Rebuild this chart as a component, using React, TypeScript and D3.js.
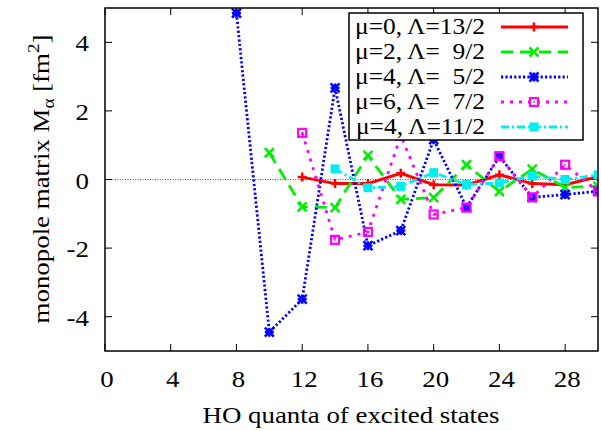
import React from "react";
import * as d3 from "d3";

const W = 601;
const H = 431;

const xTicks = [0, 4, 8, 12, 16, 20, 24, 28];
const yTicks = [-4, -2, 0, 2, 4];

const xRed = [12, 14, 16, 18, 20, 22, 24, 26, 28, 30];
const yRed = [0.07, -0.12, -0.12, 0.18, -0.15, -0.16, 0.14, -0.12, -0.15, 0.08];

const xGreen = [10, 12, 14, 16, 18, 20, 22, 24, 26, 28, 30];
const yGreen = [0.78, -0.8, -0.82, 0.7, -0.58, -0.53, 0.43, -0.35, 0.3, -0.23, -0.2];

const xBlue = [8, 10, 12, 14, 16, 18, 20, 22, 24, 26, 28, 30];
const yBlue = [4.85, -4.45, -3.49, 2.67, -1.93, -1.49, 1.16, -0.81, 0.67, -0.52, -0.44, -0.34];

const xMag = [12, 14, 16, 18, 20, 22, 24, 26, 28, 30];
const yMag = [1.36, -1.76, -1.53, 1.28, -1.02, -0.82, 0.68, -0.52, 0.43, -0.35];

const xCyan = [14, 16, 18, 20, 22, 24, 26, 28, 30];
const yCyan = [0.31, -0.24, -0.2, 0.2, -0.15, -0.1, 0.1, 0.0, 0.13];

const labels = ["μ=0, Λ=13/2", "μ=2, Λ=  9/2", "μ=4, Λ=  5/2", "μ=6, Λ=  7/2", "μ=4, Λ=11/2"];

const L = 105, R = 598, T = 8, B = 351;
const x = d3.scaleLinear().domain([0, 30]).range([L, R]);
const y = d3.scaleLinear().domain([-5, 5]).range([B, T]);

type Series = { xs: number[]; ys: number[]; color: string; dash: string; marker: string };
const series: Series[] = [
  { xs: xRed, ys: yRed, color: "#ff0000", dash: "", marker: "plus" },
  { xs: xGreen, ys: yGreen, color: "#00ee00", dash: "12,7", marker: "x" },
  { xs: xBlue, ys: yBlue, color: "#0000ff", dash: "2.2,2.2", marker: "star" },
  { xs: xMag, ys: yMag, color: "#ff00ff", dash: "3,6", marker: "sq" },
  { xs: xCyan, ys: yCyan, color: "#00eeee", dash: "8,3,2,3", marker: "fsq" },
];

function Marker({ kind, cx, cy, color }: { kind: string; cx: number; cy: number; color: string }) {
  const s = 4.5;
  if (kind === "plus")
    return (
      <path d={`M${cx - s},${cy}H${cx + s}M${cx},${cy - s}V${cy + s}`} stroke={color} strokeWidth={2.5} fill="none" />
    );
  if (kind === "x")
    return (
      <path d={`M${cx - s},${cy - s}L${cx + s},${cy + s}M${cx - s},${cy + s}L${cx + s},${cy - s}`} stroke={color} strokeWidth={2.5} fill="none" />
    );
  if (kind === "star")
    return (
      <g stroke={color} strokeWidth={2.5} fill="none">
        <path d={`M${cx - s},${cy - s}L${cx + s},${cy + s}M${cx - s},${cy + s}L${cx + s},${cy - s}M${cx - s},${cy}H${cx + s}M${cx},${cy - s}V${cy + s}`} />
        <rect x={cx - 2.5} y={cy - 2.5} width={5} height={5} fill={color} stroke="none" />
      </g>
    );
  if (kind === "sq")
    return (
      <g>
        <rect x={cx - 4} y={cy - 4} width={8} height={8} fill="none" stroke={color} strokeWidth={2.2} />
        <rect x={cx - 0.8} y={cy - 0.8} width={1.6} height={1.6} fill={color} />
      </g>
    );
  return <rect x={cx - 4.5} y={cy - 4.5} width={9} height={9} fill={color} />;
}

const FONT = "Liberation Serif";

function Txt({ x: tx, y: ty, anchor, rot, sx, children }: { x: number; y: number; anchor: string; rot?: number; sx?: number; children: React.ReactNode }) {
  return (
    <text
      transform={`translate(${tx},${ty}) rotate(${rot || 0}) scale(${sx || 1.12},1)`}
      style={{ fontFamily: FONT, fontSize: 24, whiteSpace: "pre" }}
      textAnchor={anchor}
    >
      {children}
    </text>
  );
}

export default function App() {
  const line = d3.line<[number, number]>().x((d) => x(d[0])).y((d) => y(d[1]));
  const legRows = [27, 52, 77, 102, 127];
  return (
    <svg width={W} height={H} style={{ position: "absolute", left: 0, top: 0, background: "#fff" }}>
      <defs>
        <clipPath id="plotclip">
          <rect x={L} y={T} width={R - L} height={B - T} />
        </clipPath>
      </defs>
      {/* zero line */}
      <line x1={L} x2={R} y1={y(0)} y2={y(0)} stroke="#555" strokeWidth={1} strokeDasharray="1,1.5" />
      {/* ticks */}
      {xTicks.map((t) => (
        <g key={"xt" + t}>
          <line x1={x(t)} x2={x(t)} y1={B} y2={B - 7} stroke="#000" strokeWidth={1} />
          <line x1={x(t)} x2={x(t)} y1={T} y2={T + 7} stroke="#000" strokeWidth={1} />
          <Txt x={x(t) + 2} y={387} anchor="middle">{t}</Txt>
        </g>
      ))}
      {yTicks.map((t) => (
        <g key={"yt" + t}>
          <line x1={L} x2={L + 7} y1={y(t)} y2={y(t)} stroke="#000" strokeWidth={1} />
          <line x1={R} x2={R - 7} y1={y(t)} y2={y(t)} stroke="#000" strokeWidth={1} />
          <Txt x={89} y={y(t) + 9} anchor="end">{t}</Txt>
        </g>
      ))}
      {/* series */}
      <g clipPath="url(#plotclip)">
        {series.map((s, i) => (
          <g key={"s" + i}>
            <path
              d={line(s.xs.map((v, j) => [v, s.ys[j]] as [number, number])) || ""}
              fill="none"
              stroke={s.color}
              strokeWidth={s.marker === "plus" ? 3 : 2.8}
              strokeDasharray={s.dash || undefined}
            />
            {s.xs.map((v, j) => (
              <Marker key={j} kind={s.marker} cx={x(v)} cy={y(s.ys[j])} color={s.color} />
            ))}
          </g>
        ))}
      </g>
      {/* legend */}
      <rect x={349} y={13} width={234} height={127} fill="#fff" stroke="#000" strokeWidth={1.5} />
      {series.map((s, i) => (
        <g key={"l" + i}>
          <Txt x={485} y={legRows[i] + 7} anchor="end" sx={1.06}>{labels[i]}</Txt>
          <line x1={501} x2={568} y1={legRows[i]} y2={legRows[i]} stroke={s.color} strokeWidth={2.8} strokeDasharray={s.dash || undefined} />
          <Marker kind={s.marker} cx={534} cy={legRows[i]} color={s.color} />
        </g>
      ))}
      {/* frame */}
      <rect x={L} y={T} width={R - L} height={B - T} fill="none" stroke="#000" strokeWidth={1.5} />
      {/* axis labels */}
      <Txt x={351} y={423} anchor="middle">HO quanta of excited states</Txt>
      <Txt x={49} y={179} anchor="middle" rot={-90}>
        monopole matrix M<tspan dy={5} style={{ fontSize: 17 }}>α</tspan>
        <tspan dy={-5}> [fm</tspan>
        <tspan dy={-10} style={{ fontSize: 17 }}>2</tspan>
        <tspan dy={10}>]</tspan>
      </Txt>
    </svg>
  );
}
